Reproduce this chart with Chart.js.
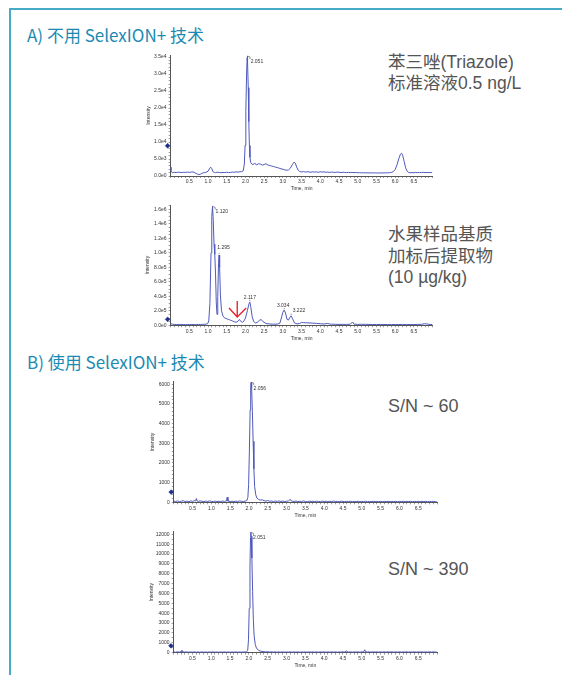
<!DOCTYPE html>
<html><head><meta charset="utf-8">
<script src="https://cdn.jsdelivr.net/npm/chart.js@4.4.0/dist/chart.umd.min.js"></script>
<style>
html,body{margin:0;padding:0;background:#fff;}
body{width:562px;height:675px;position:relative;overflow:hidden;font-family:"Noto Sans CJK SC",sans-serif;}
.frame{position:absolute;left:9px;top:8px;width:560px;height:680px;border-top:2px solid #46abc6;border-left:2px solid #46abc6;}
.title{position:absolute;left:27px;color:#1b8ab2;font-size:17px;line-height:20px;white-space:nowrap;}
.note{position:absolute;left:388px;color:#555;font-family:"Liberation Sans","Noto Sans CJK SC",sans-serif;font-size:17.5px;line-height:21px;white-space:nowrap;}
canvas{position:absolute;}
</style></head>
<body>
<div class="frame"></div>
<div class="title" style="top:25px">A) 不用 SelexION+ 技术</div>
<div class="title" style="top:352px">B) 使用 SelexION+ 技术</div>
<div class="note" style="top:52px">苯三唑(Triazole)<br>标准溶液0.5 ng/L</div>
<div class="note" style="top:224px;line-height:21.5px">水果样品基质<br>加标后提取物<br>(10 µg/kg)</div>
<div class="note" style="top:396px;font-size:18px">S/N ~ 60</div>
<div class="note" style="top:559px;font-size:18px">S/N ~ 390</div>
<canvas id="cA1"></canvas>
<canvas id="cA2"></canvas>
<canvas id="cB1"></canvas>
<canvas id="cB2"></canvas>
<script>
// ---------- data ----------
const xTickValues = [0.5,1.0,1.5,2.0,2.5,3.0,3.5,4.0,4.5,5.0,5.5,6.0,6.5];
const xTickLabels = ['0.5','1.0','1.5','2.0','2.5','3.0','3.5','4.0','4.5','5.0','5.5','6.0','6.5'];

const yTickValuesA1 = [0,5000,10000,15000,20000,25000,30000,35000];
const yTickLabelsA1 = ['0.0e0','5.0e3','1.0e4','1.5e4','2.0e4','2.5e4','3.0e4','3.5e4'];
const yTickValuesA2 = [0,200000,400000,600000,800000,1000000,1200000,1400000,1600000];
const yTickLabelsA2 = ['0.0e0','2.0e5','4.0e5','6.0e5','8.0e5','1.0e6','1.2e6','1.4e6','1.6e6'];
const yTickValuesB1 = [0,1000,2000,3000,4000,5000,6000];
const yTickLabelsB1 = ['0','1000','2000','3000','4000','5000','6000'];
const yTickValuesB2 = [0,1000,2000,3000,4000,5000,6000,7000,8000,9000,10000,11000,12000];
const yTickLabelsB2 = ['0','1000','2000','3000','4000','5000','6000','7000','8000','9000','10000','11000','12000'];

// A1: Triazole standard 0.5 ng/L, without SelexION+  [time min, intensity cps]
const traceA1 = [[0.00,2600],[0.01,1600],[0.03,1100],[0.05,1000],[0.10,1100],[0.15,1000],[0.20,1150],[0.25,1050],[0.30,1000],[0.35,1100],[0.40,1050],[0.45,1150],[0.50,1050],[0.55,1150],[0.60,1200],[0.65,950],[0.70,650],[0.75,400],[0.80,550],[0.85,850],[0.90,1000],[0.95,1100],[1.00,1400],[1.03,2000],[1.07,2600],[1.10,2200],[1.13,1300],[1.17,1050],[1.20,1000],[1.25,1100],[1.30,1050],[1.35,950],[1.40,1050],[1.45,1000],[1.50,1100],[1.55,1000],[1.60,1050],[1.65,1150],[1.70,1100],[1.75,1200],[1.80,1150],[1.85,1250],[1.90,1300],[1.94,1500],[1.97,3500],[1.99,9000],[2.01,19000],[2.03,30000],[2.045,34800],[2.051,35300],[2.06,33500],[2.075,26000],[2.09,16000],[2.105,9000],[2.12,5500],[2.14,4000],[2.17,3500],[2.20,3400],[2.25,3700],[2.30,3300],[2.35,3600],[2.40,3500],[2.45,3200],[2.50,3400],[2.55,3600],[2.60,3200],[2.65,3100],[2.70,2900],[2.75,2800],[2.80,2600],[2.85,2500],[2.90,2300],[2.95,2100],[3.00,2000],[3.05,1800],[3.10,1700],[3.15,1800],[3.20,2300],[3.25,3300],[3.30,4100],[3.33,3800],[3.37,2600],[3.41,1700],[3.45,1300],[3.50,1200],[3.55,1300],[3.60,1150],[3.65,1250],[3.70,1200],[3.75,1100],[3.80,1250],[3.85,1150],[3.90,1200],[3.95,1100],[4.00,1250],[4.05,1150],[4.10,1200],[4.15,1100],[4.20,1150],[4.25,1050],[4.30,1150],[4.35,1100],[4.40,1050],[4.45,1150],[4.50,1100],[4.55,1000],[4.60,1100],[4.65,1050],[4.70,1000],[4.75,1080],[4.80,1000],[4.85,1050],[4.90,980],[4.95,1030],[5.00,950],[5.05,1000],[5.10,920],[5.15,980],[5.20,900],[5.25,950],[5.30,900],[5.35,940],[5.40,880],[5.45,930],[5.50,880],[5.55,920],[5.60,870],[5.65,930],[5.70,900],[5.75,950],[5.80,900],[5.85,980],[5.90,1050],[5.95,1300],[6.00,1900],[6.05,3300],[6.10,5200],[6.14,6400],[6.17,6700],[6.20,6100],[6.24,4300],[6.28,2400],[6.32,1400],[6.36,1050],[6.40,950],[6.45,1000],[6.50,950],[6.55,1050],[6.60,980],[6.65,1050],[6.70,1000],[6.75,1080],[6.80,1000],[6.85,1050],[6.90,980],[6.95,1030],[6.99,1000]];
const markerA1 = [[-0.08, 8900]];
const peakTimesA1 = [2.051];
const peakValuesA1 = [35300];
const peakTextsA1 = ['2.051'];

// A2: fruit matrix spiked extract, without SelexION+
const traceA2 = [[0.00,25000],[0.05,15000],[0.10,12000],[0.15,10000],[0.20,11000],[0.25,9000],[0.30,12000],[0.35,10000],[0.40,9500],[0.45,11000],[0.50,10000],[0.55,12000],[0.60,11000],[0.65,9500],[0.70,10500],[0.75,12000],[0.80,11000],[0.85,12500],[0.90,14000],[0.95,16000],[0.99,22000],[1.02,60000],[1.05,300000],[1.08,1000000],[1.10,1500000],[1.12,1640000],[1.14,1450000],[1.16,1120000],[1.18,980000],[1.20,720000],[1.22,320000],[1.24,150000],[1.26,400000],[1.28,850000],[1.295,970000],[1.31,800000],[1.33,420000],[1.36,200000],[1.40,125000],[1.45,100000],[1.50,90000],[1.55,80000],[1.60,70000],[1.65,60000],[1.70,50000],[1.75,42000],[1.80,55000],[1.84,80000],[1.88,52000],[1.92,42000],[1.96,60000],[2.00,100000],[2.05,200000],[2.09,290000],[2.117,320000],[2.14,260000],[2.18,120000],[2.22,52000],[2.27,32000],[2.32,42000],[2.38,70000],[2.42,80000],[2.47,50000],[2.55,25000],[2.65,18000],[2.75,15000],[2.85,16000],[2.92,30000],[2.97,120000],[3.00,180000],[3.034,210000],[3.07,170000],[3.11,82000],[3.15,72000],[3.19,112000],[3.222,130000],[3.26,90000],[3.31,32000],[3.38,20000],[3.45,25000],[3.50,40000],[3.55,36000],[3.60,35000],[3.70,33000],[3.80,30000],[3.90,26000],[4.00,22000],[4.10,18000],[4.20,26000],[4.25,17000],[4.30,15000],[4.40,14000],[4.50,12000],[4.60,13000],[4.70,12000],[4.80,14000],[4.86,45000],[4.90,16000],[5.00,12000],[5.10,14000],[5.20,13000],[5.30,12000],[5.40,11000],[5.50,10000],[5.60,12000],[5.70,11000],[5.80,10000],[5.90,11000],[6.00,10000],[6.10,11000],[6.20,12000],[6.30,10000],[6.40,11000],[6.50,10000],[6.60,12000],[6.70,13000],[6.78,21000],[6.85,19000],[6.90,13000],[6.99,11000]];
const markerA2 = [[-0.08, 82000]];
const arrowA2 = [[1.56,238000],[1.78,114000],[2.02,238000],[1.78,null],[1.78,334000],[1.78,114000]];
const peakTimesA2 = [1.120,1.295,2.117,3.034,3.222];
const peakValuesA2 = [1640000,970000,320000,210000,130000];
const peakTextsA2 = ['1.120','1.295','2.117','3.034','3.222'];

// B1: Triazole standard with SelexION+
const traceB1 = [[0.00,60],[0.05,40],[0.10,70],[0.15,30],[0.20,55],[0.25,80],[0.30,40],[0.35,60],[0.40,30],[0.45,70],[0.50,45],[0.55,90],[0.58,60],[0.60,190],[0.62,70],[0.65,40],[0.70,75],[0.75,50],[0.80,30],[0.85,65],[0.90,40],[0.95,70],[1.00,50],[1.05,30],[1.10,60],[1.15,40],[1.20,55],[1.25,30],[1.30,65],[1.35,45],[1.40,70],[1.42,260],[1.44,60],[1.50,40],[1.55,55],[1.60,30],[1.65,60],[1.70,40],[1.75,70],[1.80,50],[1.85,40],[1.90,60],[1.94,80],[1.97,250],[1.99,900],[2.01,2600],[2.03,4700],[2.045,5900],[2.056,6100],[2.07,5800],[2.09,4600],[2.11,3100],[2.13,1700],[2.15,800],[2.18,380],[2.21,220],[2.25,150],[2.30,110],[2.35,130],[2.40,80],[2.45,60],[2.50,90],[2.55,50],[2.60,70],[2.65,40],[2.70,65],[2.75,45],[2.80,70],[2.85,40],[2.90,60],[2.95,35],[3.00,55],[3.05,70],[3.10,150],[3.13,60],[3.20,40],[3.25,65],[3.30,35],[3.35,55],[3.40,40],[3.45,70],[3.50,45],[3.55,30],[3.60,60],[3.65,40],[3.70,55],[3.75,30],[3.80,60],[3.85,45],[3.90,35],[3.95,60],[4.00,40],[4.05,55],[4.10,30],[4.15,50],[4.20,40],[4.25,60],[4.30,35],[4.35,50],[4.40,30],[4.45,55],[4.50,40],[4.55,30],[4.60,50],[4.65,35],[4.70,55],[4.75,30],[4.80,45],[4.85,35],[4.90,55],[4.95,30],[5.00,45],[5.05,35],[5.10,55],[5.15,30],[5.20,45],[5.25,35],[5.30,50],[5.35,30],[5.40,45],[5.45,35],[5.50,50],[5.55,30],[5.60,45],[5.65,35],[5.70,50],[5.75,30],[5.80,45],[5.85,35],[5.90,50],[5.95,30],[6.00,45],[6.05,35],[6.10,50],[6.15,30],[6.20,45],[6.25,35],[6.30,50],[6.35,30],[6.40,45],[6.45,35],[6.50,50],[6.55,30],[6.60,45],[6.65,35],[6.70,50],[6.75,30],[6.80,45],[6.85,35],[6.90,50],[6.95,30],[6.99,40]];
const markerB1 = [[-0.07, 520]];
const peakTimesB1 = [2.056];
const peakValuesB1 = [6100];
const peakTextsB1 = ['2.056'];

// B2: fruit matrix spiked extract with SelexION+
const traceB2 = [[0.00,80],[0.05,50],[0.10,90],[0.15,60],[0.20,110],[0.22,260],[0.24,90],[0.30,60],[0.35,80],[0.40,50],[0.45,75],[0.50,55],[0.55,85],[0.60,50],[0.65,70],[0.70,45],[0.75,80],[0.80,55],[0.85,70],[0.90,45],[0.95,75],[1.00,55],[1.05,80],[1.10,50],[1.15,70],[1.20,45],[1.25,75],[1.30,55],[1.35,80],[1.40,50],[1.45,70],[1.50,45],[1.55,75],[1.60,55],[1.65,80],[1.70,50],[1.75,70],[1.80,55],[1.85,80],[1.90,60],[1.94,90],[1.97,250],[1.99,1300],[2.01,4500],[2.03,8800],[2.045,11700],[2.051,12200],[2.065,11800],[2.08,9600],[2.10,6200],[2.12,3300],[2.14,1700],[2.17,850],[2.20,480],[2.25,260],[2.30,170],[2.35,130],[2.40,100],[2.45,80],[2.50,95],[2.55,70],[2.60,85],[2.65,60],[2.70,80],[2.75,55],[2.80,75],[2.85,60],[2.90,80],[2.95,55],[3.00,75],[3.05,60],[3.10,85],[3.15,55],[3.20,75],[3.25,60],[3.30,80],[3.35,55],[3.40,75],[3.45,60],[3.50,80],[3.55,55],[3.60,75],[3.65,60],[3.70,80],[3.75,55],[3.80,75],[3.85,60],[3.90,85],[3.95,60],[4.00,80],[4.05,55],[4.10,75],[4.15,60],[4.20,85],[4.25,60],[4.30,80],[4.35,55],[4.40,75],[4.45,65],[4.50,85],[4.55,70],[4.60,190],[4.62,80],[4.65,65],[4.70,85],[4.75,60],[4.80,80],[4.85,65],[4.90,85],[4.95,60],[5.00,80],[5.05,90],[5.08,300],[5.10,90],[5.15,65],[5.20,85],[5.25,60],[5.30,80],[5.35,65],[5.40,85],[5.45,60],[5.50,80],[5.55,65],[5.60,85],[5.65,60],[5.70,80],[5.75,65],[5.80,85],[5.85,60],[5.90,80],[5.95,65],[6.00,85],[6.05,60],[6.10,80],[6.15,65],[6.20,85],[6.25,60],[6.30,80],[6.35,65],[6.40,85],[6.45,60],[6.50,80],[6.55,65],[6.60,85],[6.65,60],[6.70,80],[6.75,65],[6.80,85],[6.85,60],[6.90,80],[6.95,65],[6.99,75]];
const markerB2 = [[-0.07, 700]];
const peakTimesB2 = [2.051];
const peakValuesB2 = [12200];
const peakTextsB2 = ['2.051'];

// ---------- rendering ----------
Chart.defaults.font.family = '"Liberation Sans", Arial, sans-serif';
Chart.defaults.color = '#333';
const TRACE_COLOR = '#4f59bc';
const FONT_SMALL = 5;

function labelFor(values, labels){
  return function(v){
    for (let i=0;i<values.length;i++){
      if (Math.abs(v - values[i]) <= Math.abs(values[values.length-1])*1e-7 + 1e-9) return labels[i];
    }
    return '';
  };
}
// minor tick positions (every `minor` units) from min up to max
function tickSet(min, max, minor){
  const out = [];
  const n = Math.floor((max - min) / minor + 1e-9);
  for (let i=0;i<=n;i++) out.push({ value: Math.round((min + i*minor)*1e6)/1e6 });
  return out;
}
const pts = arr => arr.map(p => ({x:p[0], y:p[1]}));

function peakPlugin(times, values, texts, places){
  return {
    id: 'peakLabels',
    afterDatasetsDraw(chart){
      const ctx = chart.ctx, xs = chart.scales.x, ys = chart.scales.y;
      ctx.save();
      ctx.font = FONT_SMALL + 'px "Liberation Sans", Arial, sans-serif';
      ctx.fillStyle = '#333';
      ctx.strokeStyle = '#666';
      ctx.lineWidth = 0.7;
      ctx.textBaseline = 'middle';
      for (let i=0;i<times.length;i++){
        const px = xs.getPixelForValue(times[i]);
        const py = ys.getPixelForValue(values[i]);
        const pl = places[i];
        ctx.beginPath();
        if (pl.mode === 'right'){
          ctx.moveTo(px, py); ctx.lineTo(px+2.5, py+0.8); ctx.lineTo(px+2.8, py+3);
        } else {
          ctx.moveTo(px, py-0.8); ctx.lineTo(px, py-2.2);
        }
        ctx.stroke();
        ctx.textAlign = pl.align;
        ctx.fillText(texts[i], px + pl.dx, py + pl.dy);
      }
      ctx.restore();
    }
  };
}

function makeChart(id, opt){
  const c = document.getElementById(id);
  const b = opt.box, a = opt.area;
  c.width = b.w; c.height = b.h;
  c.style.left = b.l + 'px'; c.style.top = b.t + 'px';
  c.style.width = b.w + 'px'; c.style.height = b.h + 'px';
  const scaleLeft = opt.yTitleX - 3;
  const yW = a.l - scaleLeft;
  const xH = (b.t + b.h) - a.b;
  const datasets = [
    { data: pts(opt.trace), showLine: true, borderColor: TRACE_COLOR, borderWidth: 1,
      pointRadius: 0, pointHoverRadius: 0, fill: false, tension: 0, order: 2 },
    { data: pts(opt.marker), showLine: false, pointStyle: 'rectRot', pointRadius: 2.4,
      backgroundColor: '#1d2c88', borderColor: '#1d2c88', borderWidth: 0.5, clip: false, order: 1 }
  ];
  if (opt.arrow){
    datasets.push({ data: pts(opt.arrow), showLine: true, spanGaps: false, borderColor: '#e5262d',
      borderWidth: 1.4, pointRadius: 0, fill: false, tension: 0, order: 0 });
  }
  new Chart(c, {
    type: 'scatter',
    data: { datasets },
    options: {
      responsive: false, animation: false, devicePixelRatio: 1,
      events: [],
      layout: { padding: { left: scaleLeft - b.l, top: a.t - b.t, right: (b.l + b.w) - a.r, bottom: 0 } },
      plugins: { legend: { display: false }, tooltip: { enabled: false } },
      scales: {
        x: {
          type: 'linear', min: 0, max: 7,
          border: { display: true, color: '#555', width: 1 },
          grid: { drawOnChartArea: false, drawTicks: true, tickLength: 2, tickColor: '#777', tickWidth: 0.7 },
          ticks: { autoSkip: false, maxRotation: 0, padding: 1,
                   font: { size: FONT_SMALL }, color: '#333',
                   callback: labelFor(xTickValues, xTickLabels) },
          afterBuildTicks(s){ s.ticks = tickSet(0, 7, 0.1); },
          title: { display: true, text: 'Time, min', font: { size: FONT_SMALL }, color: '#333',
                   padding: { top: 0, bottom: 3 } },
          afterFit(s){ s.height = xH; }
        },
        y: {
          type: 'linear', min: 0, max: opt.yMax,
          border: { display: true, color: '#555', width: 1 },
          grid: { drawOnChartArea: false, drawTicks: true, tickLength: 2, tickColor: '#777', tickWidth: 0.7 },
          ticks: { autoSkip: false, padding: 2,
                   font: { size: FONT_SMALL }, color: '#333',
                   callback: labelFor(opt.yVals, opt.yLabels) },
          afterBuildTicks(s){ s.ticks = tickSet(0, opt.yMax, opt.yMinor); },
          title: { display: true, text: 'Intensity', font: { size: FONT_SMALL }, color: '#333',
                   padding: { top: 0, bottom: 0 } },
          afterFit(s){ s.width = yW; }
        }
      }
    },
    plugins: [ peakPlugin(opt.peakT, opt.peakV, opt.peakS, opt.places) ]
  });
}

makeChart('cA1', {
  box: { l: 120, t: 44, w: 330, h: 151 }, area: { l: 170.6, t: 55, r: 432.6, b: 176 },
  yTitleX: 148.3, yMax: 35600, yMinor: 1000, yVals: yTickValuesA1, yLabels: yTickLabelsA1,
  trace: traceA1, marker: markerA1,
  peakT: peakTimesA1, peakV: peakValuesA1, peakS: peakTextsA1,
  places: [ { mode: 'right', dx: 3.3, dy: 5.5, align: 'left' } ]
});
makeChart('cA2', {
  box: { l: 120, t: 195, w: 330, h: 150 }, area: { l: 170.6, t: 205, r: 432.6, b: 325.3 },
  yTitleX: 147.3, yMax: 1660000, yMinor: 50000, yVals: yTickValuesA2, yLabels: yTickLabelsA2,
  trace: traceA2, marker: markerA2, arrow: arrowA2,
  peakT: peakTimesA2, peakV: peakValuesA2, peakS: peakTextsA2,
  places: [
    { mode: 'right', dx: 3, dy: 5, align: 'left' },
    { mode: 'above', dx: 4.5, dy: -7.5, align: 'center' },
    { mode: 'above', dx: 0, dy: -4.5, align: 'center' },
    { mode: 'above', dx: -1, dy: -4.5, align: 'center' },
    { mode: 'above', dx: 1.5, dy: -5.5, align: 'left' }
  ]
});
makeChart('cB1', {
  box: { l: 124, t: 372, w: 330, h: 150 }, area: { l: 173.8, t: 381.7, r: 437, b: 502.3 },
  yTitleX: 152.7, yMax: 6130, yMinor: 200, yVals: yTickValuesB1, yLabels: yTickLabelsB1,
  trace: traceB1, marker: markerB1,
  peakT: peakTimesB1, peakV: peakValuesB1, peakS: peakTextsB1,
  places: [ { mode: 'right', dx: 2.5, dy: 6, align: 'left' } ]
});
makeChart('cB2', {
  box: { l: 124, t: 522, w: 330, h: 150 }, area: { l: 173.6, t: 531.7, r: 437, b: 652.7 },
  yTitleX: 152, yMax: 12270, yMinor: 500, yVals: yTickValuesB2, yLabels: yTickLabelsB2,
  trace: traceB2, marker: markerB2,
  peakT: peakTimesB2, peakV: peakValuesB2, peakS: peakTextsB2,
  places: [ { mode: 'right', dx: 2.3, dy: 5.5, align: 'left' } ]
});
</script>
</body></html>
